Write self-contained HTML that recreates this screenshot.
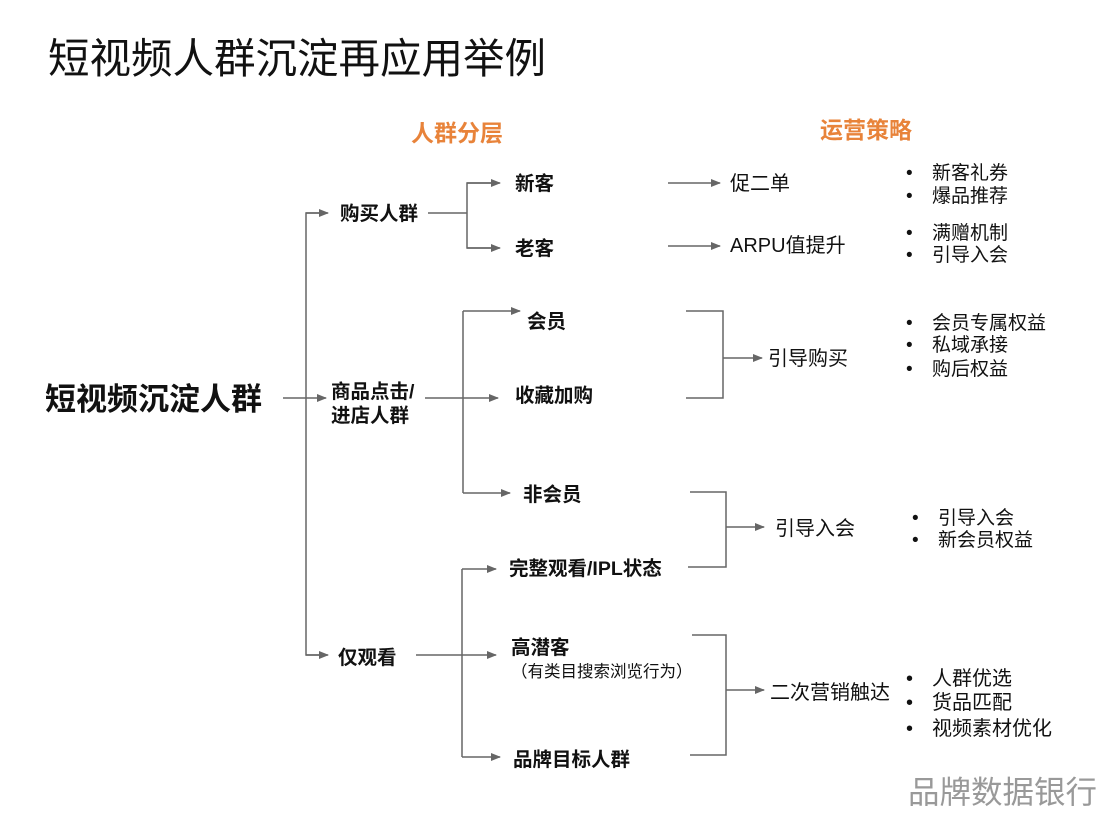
<!DOCTYPE html>
<html><head><meta charset="utf-8"><style>
html,body{margin:0;padding:0;background:#fff;}
svg{display:block;font-family:"Liberation Sans","Noto Sans CJK SC",sans-serif;}
.b{font-weight:bold;font-size:19.5px;fill:#111;}
.n{font-size:20px;fill:#111;}
.s{font-size:19px;fill:#111;}
.o{font-weight:bold;font-size:23px;fill:#E8833A;}
</style></head><body>
<svg width="1108" height="814" viewBox="0 0 1108 814">
<defs><marker id="a" markerWidth="10" markerHeight="10" refX="9" refY="5" orient="auto" markerUnits="userSpaceOnUse"><path d="M0,1 L10,5 L0,9 Z" fill="#666"/></marker></defs>
<text x="48" y="73" font-size="41.5" fill="#111">短视频人群沉淀再应用举例</text>
<text x="411" y="141" class="o">人群分层</text>
<text x="820" y="138" class="o">运营策略</text>
<text x="45" y="410" font-size="31" font-weight="bold" fill="#111">短视频沉淀人群</text>
<g stroke="#666" stroke-width="1.5" fill="none">
<line x1="283" y1="398" x2="326" y2="398" marker-end="url(#a)"/>
<polyline points="326,213 306,213 306,655 326,655"/>
<line x1="306" y1="213" x2="328" y2="213" marker-end="url(#a)"/>
<line x1="306" y1="655" x2="328" y2="655" marker-end="url(#a)"/>
<line x1="428" y1="213" x2="467" y2="213"/>
<polyline points="499,183 467,183 467,248 499,248"/>
<line x1="467" y1="183" x2="500" y2="183" marker-end="url(#a)"/>
<line x1="467" y1="248" x2="500" y2="248" marker-end="url(#a)"/>
<line x1="668" y1="183" x2="720" y2="183" marker-end="url(#a)"/>
<line x1="668" y1="246" x2="720" y2="246" marker-end="url(#a)"/>
<line x1="425" y1="398" x2="498" y2="398" marker-end="url(#a)"/>
<polyline points="463,311 463,493"/>
<line x1="463" y1="311" x2="520" y2="311" marker-end="url(#a)"/>
<line x1="463" y1="493" x2="510" y2="493" marker-end="url(#a)"/>
<polyline points="686,311 723,311 723,398 686,398"/>
<line x1="723" y1="358" x2="762" y2="358" marker-end="url(#a)"/>
<polyline points="690,492 726,492 726,567 688,567"/>
<line x1="726" y1="527" x2="764" y2="527" marker-end="url(#a)"/>
<line x1="416" y1="655" x2="496" y2="655" marker-end="url(#a)"/>
<polyline points="462,569 462,757"/>
<line x1="462" y1="569" x2="496" y2="569" marker-end="url(#a)"/>
<line x1="462" y1="757" x2="500" y2="757" marker-end="url(#a)"/>
<polyline points="692,635 726,635 726,755 690,755"/>
<line x1="726" y1="690" x2="764" y2="690" marker-end="url(#a)"/>
</g>
<text x="340" y="220" class="b">购买人群</text>
<text x="515" y="190" class="b">新客</text>
<text x="515" y="255" class="b">老客</text>
<text x="730" y="190" class="n">促二单</text>
<text x="730" y="252" class="n">ARPU值提升</text>
<text x="331" y="398" class="b">商品点击/</text>
<text x="331" y="422" class="b">进店人群</text>
<text x="527" y="328" class="b">会员</text>
<text x="515" y="402" class="b">收藏加购</text>
<text x="523" y="501" class="b">非会员</text>
<text x="768" y="365" class="n">引导购买</text>
<text x="775" y="535" class="n">引导入会</text>
<text x="338" y="664" class="b">仅观看</text>
<text x="509" y="575" class="b">完整观看/IPL状态</text>
<text x="511" y="654" class="b">高潜客</text>
<text x="511" y="677" font-size="16.5" fill="#111">（有类目搜索浏览行为）</text>
<text x="513" y="766" class="b">品牌目标人群</text>
<text x="770" y="699" class="n">二次营销触达</text>
<g class="s">
<text x="906" y="179">•</text><text x="932" y="179">新客礼券</text>
<text x="906" y="202">•</text><text x="932" y="202">爆品推荐</text>
<text x="906" y="239">•</text><text x="932" y="239">满赠机制</text>
<text x="906" y="261">•</text><text x="932" y="261">引导入会</text>
<text x="906" y="329">•</text><text x="932" y="329">会员专属权益</text>
<text x="906" y="351">•</text><text x="932" y="351">私域承接</text>
<text x="906" y="375">•</text><text x="932" y="375">购后权益</text>
<text x="912" y="524">•</text><text x="938" y="524">引导入会</text>
<text x="912" y="546">•</text><text x="938" y="546">新会员权益</text>
</g>
<g class="n">
<text x="906" y="685">•</text><text x="932" y="685">人群优选</text>
<text x="906" y="709">•</text><text x="932" y="709">货品匹配</text>
<text x="906" y="735">•</text><text x="932" y="735">视频素材优化</text>
</g>
<text x="908" y="803" font-size="31.5" fill="#999">品牌数据银行</text>
</svg>
</body></html>
